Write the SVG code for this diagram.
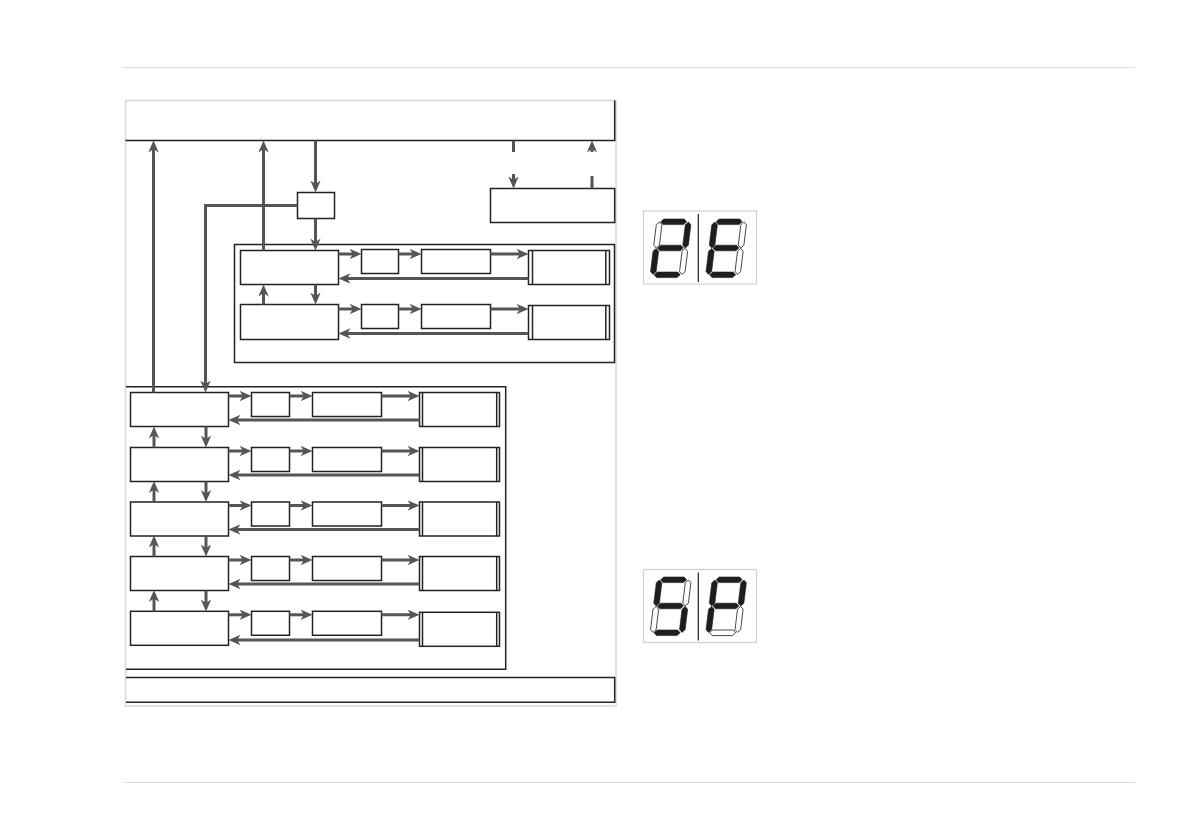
<svg xmlns="http://www.w3.org/2000/svg" xmlns:xlink="http://www.w3.org/1999/xlink" width="1191" height="839" viewBox="0 0 1191 839">
<style>
.box{fill:#fff;stroke:#222;stroke-width:1.5}
.frm{fill:none;stroke:#222;stroke-width:1.5}
.gray{fill:none;stroke:#d8d8d8;stroke-width:1.5}
.ln{fill:none;stroke:#555;stroke-width:3}
.ar{fill:none;stroke:#555;stroke-width:3;marker-end:url(#ah)}
.on{fill:#1e1e1e;stroke:#1e1e1e;stroke-width:0.6}
.off{fill:#fff;stroke:#222;stroke-width:0.8}
.disp{fill:#fff;stroke:#d0d0d0;stroke-width:1.2}
</style>
<defs>
<marker id="ah" viewBox="0 0 12 12" refX="7.5" refY="6" markerWidth="12" markerHeight="12" markerUnits="userSpaceOnUse" orient="auto">
<path d="M0,0.8 L12,6 L0,11.2 L3.5,6 Z" fill="#555"/>
</marker>
<path id="sh" d="M0,2.8 L2.8,0 L23.2,0 L26,2.8 L23.2,5.6 L2.8,5.6 Z"/>
<path id="sv" d="M2.8,0 L5.6,2.8 L5.6,23.2 L2.8,26 L0,23.2 L0,2.8 Z"/>
</defs>
<rect width="1191" height="839" fill="#fff"/>

<g id="page-rules">
<line x1="123" y1="67.5" x2="1135" y2="67.5" stroke="#dcdcdc" stroke-width="1.2"/>
<line x1="123" y1="782.5" x2="1135" y2="782.5" stroke="#dcdcdc" stroke-width="1.2"/>
</g>

<g id="panel">
<rect class="gray" x="125.5" y="100.5" width="490.5" height="605.5"/>
</g>

<g id="header">
<path class="frm" d="M125.5,140.5 H614.7 V100.5"/>
</g>

<g id="select-box"><rect class="box" x="297.5" y="192.5" width="37" height="26"/></g>
<g id="side-box"><rect class="box" x="490.5" y="188.5" width="124.2" height="34"/></g>

<g id="group-1"><rect class="frm" x="234.5" y="244.5" width="380" height="118"/></g>
<g id="group-2"><path class="frm" d="M126,386.7 H505.7 V669.3 H126"/></g>
<g id="footer"><path class="frm" d="M126,677.5 H614.7 V702.3 H126"/></g>

<g id="g1-row1">
<rect class="box" x="240.5" y="250.5" width="98" height="34"/>
<rect class="box" x="361.5" y="249.5" width="37" height="24"/>
<rect class="box" x="421.5" y="249.5" width="69" height="24"/>
<rect class="box" x="528.5" y="250.5" width="81" height="34"/>
<line class="frm" x1="532.5" y1="250.5" x2="532.5" y2="284.5"/>
<line class="frm" x1="605.8" y1="250.5" x2="605.8" y2="284.5"/>
</g>
<g id="g1-row2">
<rect class="box" x="240.5" y="304.5" width="98" height="35"/>
<rect class="box" x="361.5" y="304.5" width="37" height="24"/>
<rect class="box" x="421.5" y="304.5" width="69" height="24"/>
<rect class="box" x="528.5" y="305.5" width="81" height="34"/>
<line class="frm" x1="532.5" y1="305.5" x2="532.5" y2="339.5"/>
<line class="frm" x1="605.8" y1="305.5" x2="605.8" y2="339.5"/>
</g>

<g id="g2-row1">
<rect class="box" x="130.5" y="392.5" width="98" height="34"/>
<rect class="box" x="251.5" y="392.5" width="38" height="24"/>
<rect class="box" x="312.5" y="392.5" width="69" height="24"/>
<rect class="box" x="419.5" y="392.5" width="80" height="34"/>
<line class="frm" x1="422.5" y1="392.5" x2="422.5" y2="426.5"/>
<line class="frm" x1="496.7" y1="392.5" x2="496.7" y2="426.5"/>
</g>
<g id="g2-row2">
<rect class="box" x="130.5" y="447.5" width="98" height="34"/>
<rect class="box" x="251.5" y="447.5" width="38" height="24"/>
<rect class="box" x="312.5" y="447.5" width="69" height="24"/>
<rect class="box" x="419.5" y="447.5" width="80" height="34"/>
<line class="frm" x1="422.5" y1="447.5" x2="422.5" y2="481.5"/>
<line class="frm" x1="496.7" y1="447.5" x2="496.7" y2="481.5"/>
</g>
<g id="g2-row3">
<rect class="box" x="130.5" y="502" width="98" height="34"/>
<rect class="box" x="251.5" y="502" width="38" height="24"/>
<rect class="box" x="312.5" y="502" width="69" height="24"/>
<rect class="box" x="419.5" y="502" width="80" height="34"/>
<line class="frm" x1="422.5" y1="502" x2="422.5" y2="536"/>
<line class="frm" x1="496.7" y1="502" x2="496.7" y2="536"/>
</g>
<g id="g2-row4">
<rect class="box" x="130.5" y="556.5" width="98" height="34"/>
<rect class="box" x="251.5" y="556.5" width="38" height="24"/>
<rect class="box" x="312.5" y="556.5" width="69" height="24"/>
<rect class="box" x="419.5" y="556.5" width="80" height="34"/>
<line class="frm" x1="422.5" y1="556.5" x2="422.5" y2="590.5"/>
<line class="frm" x1="496.7" y1="556.5" x2="496.7" y2="590.5"/>
</g>
<g id="g2-row5">
<rect class="box" x="130.5" y="611.3" width="98" height="34"/>
<rect class="box" x="251.5" y="611.3" width="38" height="24"/>
<rect class="box" x="312.5" y="611.3" width="69" height="24"/>
<rect class="box" x="419.5" y="612.3" width="80" height="34"/>
<line class="frm" x1="422.5" y1="612.3" x2="422.5" y2="646.3"/>
<line class="frm" x1="496.7" y1="612.3" x2="496.7" y2="646.3"/>
</g>

<g id="connectors">
<line class="ar" x1="153.5" y1="392.5" x2="153.5" y2="145"/>
<line class="ar" x1="263.5" y1="250.5" x2="263.5" y2="145"/>
<line class="ar" x1="315.5" y1="140.5" x2="315.5" y2="188"/>
<line class="ar" x1="315.5" y1="218.5" x2="315.5" y2="246"/>
<path class="ar" d="M297.5,205.5 H205.5 V388"/>
<line class="ln" x1="513.5" y1="140.5" x2="513.5" y2="152"/>
<line class="ar" x1="513.5" y1="174" x2="513.5" y2="184"/>
<line class="ln" x1="592" y1="176" x2="592" y2="188.5"/>
<line class="ar" x1="592" y1="152" x2="592" y2="145"/>
<line class="ar" x1="338.5" y1="254" x2="357" y2="254"/>
<line class="ar" x1="398.5" y1="254" x2="417" y2="254"/>
<line class="ar" x1="490.5" y1="254" x2="524" y2="254"/>
<line class="ar" x1="528.5" y1="278.5" x2="343" y2="278.5"/>
<line class="ar" x1="338.5" y1="309" x2="357" y2="309"/>
<line class="ar" x1="398.5" y1="309" x2="417" y2="309"/>
<line class="ar" x1="490.5" y1="309" x2="524" y2="309"/>
<line class="ar" x1="528.5" y1="333.5" x2="343" y2="333.5"/>
<line class="ar" x1="263.5" y1="304.5" x2="263.5" y2="289"/>
<line class="ar" x1="315.5" y1="284.5" x2="315.5" y2="300"/>
<line class="ar" x1="228.5" y1="396" x2="247" y2="396"/>
<line class="ar" x1="289.5" y1="396" x2="308" y2="396"/>
<line class="ar" x1="381.5" y1="396" x2="415" y2="396"/>
<line class="ar" x1="419.5" y1="420" x2="233" y2="420"/>
<line class="ar" x1="228.5" y1="451" x2="247" y2="451"/>
<line class="ar" x1="289.5" y1="451" x2="308" y2="451"/>
<line class="ar" x1="381.5" y1="451" x2="415" y2="451"/>
<line class="ar" x1="419.5" y1="475" x2="233" y2="475"/>
<line class="ar" x1="228.5" y1="505.5" x2="247" y2="505.5"/>
<line class="ar" x1="289.5" y1="505.5" x2="308" y2="505.5"/>
<line class="ar" x1="381.5" y1="505.5" x2="415" y2="505.5"/>
<line class="ar" x1="419.5" y1="529.5" x2="233" y2="529.5"/>
<line class="ar" x1="228.5" y1="560" x2="247" y2="560"/>
<line class="ar" x1="289.5" y1="560" x2="308" y2="560"/>
<line class="ar" x1="381.5" y1="560" x2="415" y2="560"/>
<line class="ar" x1="419.5" y1="584" x2="233" y2="584"/>
<line class="ar" x1="228.5" y1="614.8" x2="247" y2="614.8"/>
<line class="ar" x1="289.5" y1="614.8" x2="308" y2="614.8"/>
<line class="ar" x1="381.5" y1="614.8" x2="415" y2="614.8"/>
<line class="ar" x1="419.5" y1="640" x2="233" y2="640"/>
<line class="ar" x1="154" y1="447.5" x2="154" y2="431"/>
<line class="ar" x1="206" y1="426.5" x2="206" y2="443"/>
<line class="ar" x1="154" y1="502" x2="154" y2="485.5"/>
<line class="ar" x1="206" y1="481.5" x2="206" y2="497.5"/>
<line class="ar" x1="154" y1="556.5" x2="154" y2="540"/>
<line class="ar" x1="206" y1="536" x2="206" y2="552"/>
<line class="ar" x1="154" y1="611.3" x2="154" y2="594.5"/>
<line class="ar" x1="206" y1="590.5" x2="206" y2="607"/>
</g>

<g id="display-1">
<rect class="disp" x="643.5" y="211" width="113" height="73"/>
<line x1="698.3" y1="214" x2="698.3" y2="282" stroke="#222" stroke-width="1.2"/>
<g transform="translate(657,219) skewX(-7)">
<use href="#sh" x="4" y="0" class="on"/>
<use href="#sv" x="0" y="3" class="off"/>
<use href="#sv" x="29" y="3" class="on"/>
<use href="#sh" x="4" y="26.2" class="on"/>
<use href="#sv" x="0" y="29.4" class="on"/>
<use href="#sv" x="29" y="29.4" class="off"/>
<use href="#sh" x="4" y="53" class="on"/>
</g>
<g transform="translate(712.5,219) skewX(-7)">
<use href="#sh" x="4" y="0" class="on"/>
<use href="#sv" x="0" y="3" class="on"/>
<use href="#sv" x="29" y="3" class="off"/>
<use href="#sh" x="4" y="26.2" class="on"/>
<use href="#sv" x="0" y="29.4" class="on"/>
<use href="#sv" x="29" y="29.4" class="off"/>
<use href="#sh" x="4" y="53" class="on"/>
</g>
</g>

<g id="display-2">
<rect class="disp" x="643.5" y="569.5" width="113" height="73"/>
<line x1="698.3" y1="572.5" x2="698.3" y2="640.5" stroke="#222" stroke-width="1.2"/>
<g transform="translate(657,577) skewX(-7)">
<use href="#sh" x="4" y="0" class="on"/>
<use href="#sv" x="0" y="3" class="on"/>
<use href="#sv" x="29" y="3" class="off"/>
<use href="#sh" x="4" y="26.2" class="on"/>
<use href="#sv" x="0" y="29.4" class="off"/>
<use href="#sv" x="29" y="29.4" class="on"/>
<use href="#sh" x="4" y="53" class="on"/>
</g>
<g transform="translate(712.5,577) skewX(-7)">
<use href="#sh" x="4" y="0" class="on"/>
<use href="#sv" x="0" y="3" class="on"/>
<use href="#sv" x="29" y="3" class="on"/>
<use href="#sh" x="4" y="26.2" class="on"/>
<use href="#sv" x="0" y="29.4" class="on"/>
<use href="#sv" x="29" y="29.4" class="off"/>
<use href="#sh" x="4" y="53" class="off"/>
</g>
</g>
</svg>
